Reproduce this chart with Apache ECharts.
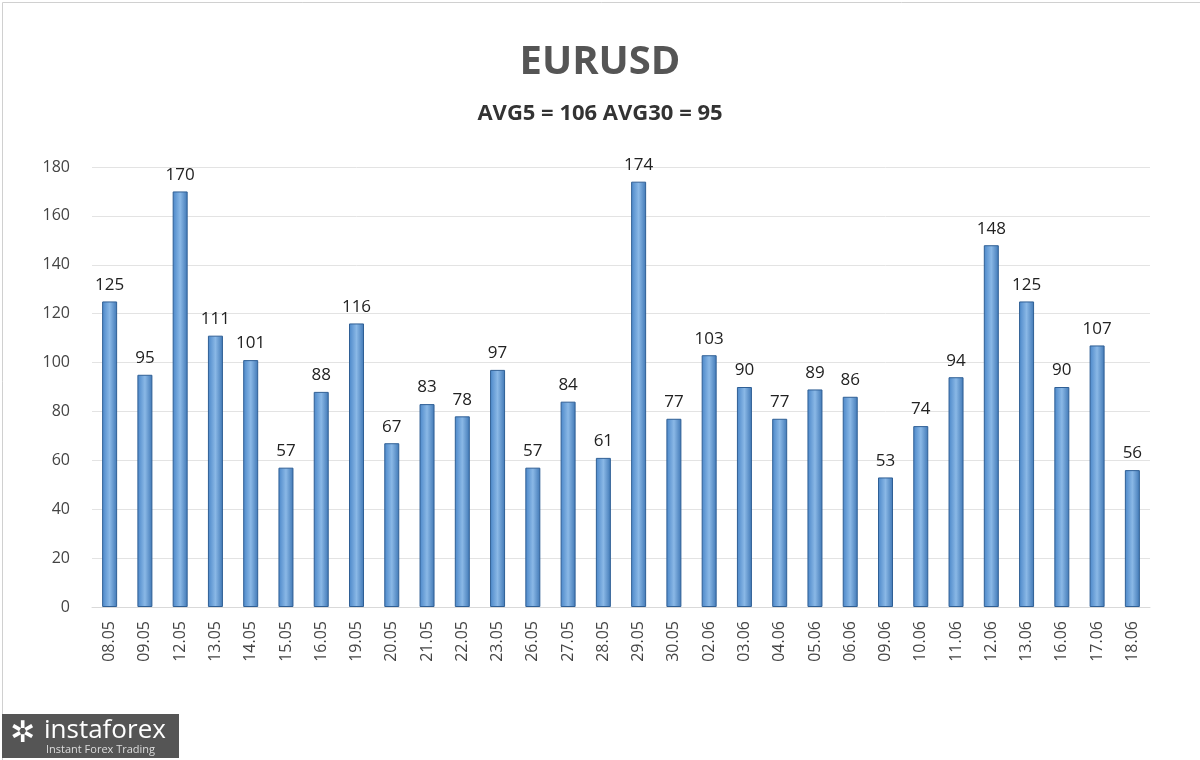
<!DOCTYPE html>
<html><head><meta charset="utf-8">
<script src="https://cdn.jsdelivr.net/npm/echarts@6/dist/echarts.min.js"></script>
<style>html,body{margin:0;padding:0;background:#fff}#c{width:1200px;height:760px}</style>
</head><body><div id="c"></div>
<script>
const categories = ["08.05","09.05","12.05","13.05","14.05","15.05","16.05","19.05","20.05","21.05","22.05","23.05","26.05","27.05","28.05","29.05","30.05","02.06","03.06","04.06","05.06","06.06","09.06","10.06","11.06","12.06","13.06","16.06","17.06","18.06"];
const values = [125,95,170,111,101,57,88,116,67,83,78,97,57,84,61,174,77,103,90,77,89,86,53,74,94,148,125,90,107,56];
const yTicks = [0,20,40,60,80,100,120,140,160,180];
const chart = echarts.init(document.getElementById('c'));
chart.setOption({
  backgroundColor:'#fff',
  title:{text:'EURUSD',subtext:'AVG5 = 106 AVG30 = 95',left:'center',top:38,itemGap:20,
    textStyle:{fontSize:40,fontWeight:'bold',color:'#555',fontFamily:'Open Sans'},
    subtextStyle:{fontSize:22,fontWeight:'bold',color:'#333',fontFamily:'Open Sans'}},
  grid:{left:92,right:50,top:167,bottom:153},
  xAxis:{type:'category',data:categories,
    axisLine:{lineStyle:{color:'#d9d9d9'}},axisTick:{show:false},
    axisLabel:{rotate:90,color:'#444',fontSize:16,fontFamily:'Open Sans',margin:14}},
  yAxis:{type:'value',min:0,max:180,interval:20,
    axisLine:{show:false},axisTick:{show:false},
    axisLabel:{color:'#444',fontSize:16,fontFamily:'Open Sans',margin:22,
      formatter:v=>yTicks.includes(v)?String(v):''},
    splitLine:{lineStyle:{color:'#e3e3e3'}}},
  series:[{type:'bar',data:values,barWidth:15,
    itemStyle:{color:new echarts.graphic.LinearGradient(0,0,1,0,[
      {offset:0,color:'#4a86c8'},{offset:0.5,color:'#8ab8e6'},{offset:1,color:'#3f77b5'}]),
      borderColor:'#2f5f95',borderWidth:1},
    label:{show:true,position:'top',distance:8,color:'#222',fontSize:17,fontFamily:'Open Sans'}}],
  graphic:[
    {type:'rect',left:0,top:0,shape:{width:1199,height:759},style:{fill:'none',stroke:'#d0d0d0',lineWidth:1}},
    {type:'rect',left:2,top:714,shape:{width:177,height:44},style:{fill:'#555'}},
    {type:'text',left:10,top:719,style:{text:'✲',fill:'#fff',font:'bold 30px DejaVu Sans'}},
    {type:'text',left:44,top:718,style:{text:'instaforex',fill:'#fff',font:'26px Open Sans'}},
    {type:'text',left:46,top:744,style:{text:'Instant Forex Trading',fill:'#ddd',font:'11px Open Sans'}}
  ]
});
</script></body></html>
